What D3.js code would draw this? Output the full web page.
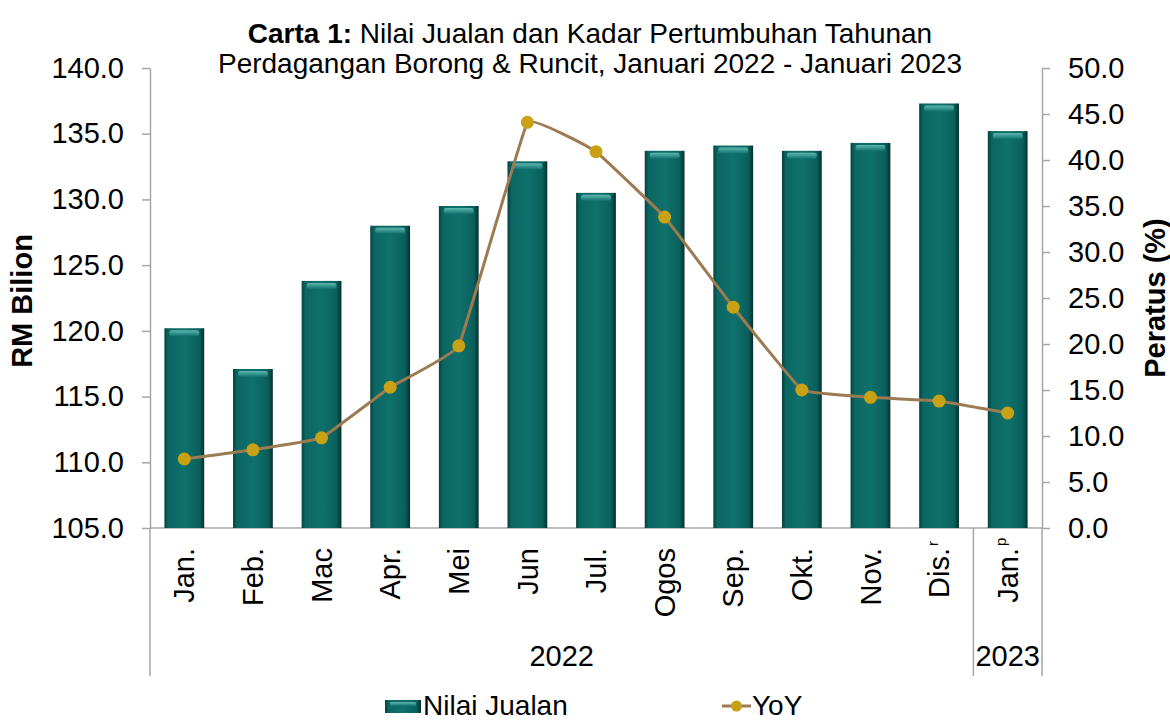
<!DOCTYPE html>
<html>
<head>
<meta charset="utf-8">
<script src="https://cdn.jsdelivr.net/npm/d3@7"></script>
<style>
  body { margin: 0; background: #fff; }
  text { font-family: "Liberation Sans", Arial, sans-serif; fill: #000; }
</style>
</head>
<body>
<svg id="chart" width="1170" height="721"></svg>
<script>
// data
const months = ["Jan.", "Feb.", "Mac", "Apr.", "Mei", "Jun", "Jul.", "Ogos", "Sep.", "Okt.", "Nov.", "Dis.", "Jan."]
const marks = ["", "", "", "", "", "", "", "", "", "", "", "r", "p"]
const nilaiJualan = [120.2, 117.1, 123.8, 128.0, 129.5, 132.9, 130.5, 133.7, 134.1, 133.7, 134.3, 137.3, 135.2]
const yoy = [7.5, 8.5, 9.8, 15.3, 19.8, 44.1, 40.9, 33.8, 24.0, 15.0, 14.2, 13.8, 12.5]
const yearLabels = ["2022", "2023"]
const yearSpans = [[0, 11], [12, 12]]
const leftTicks = [105, 110, 115, 120, 125, 130, 135, 140]
const rightTicks = [0, 5, 10, 15, 20, 25, 30, 35, 40, 45, 50]

const svg = d3.select("#chart")
const fs = 29
const axisColor = "#a6a6a6"

let plotLeft = 150, plotRight = 1042, plotTop = 68, plotBottom = 528

let x = d3.scaleBand().domain(d3.range(months.length)).range([plotLeft, plotRight])
let barW = x.bandwidth() * 0.58
let cx = i => x(i) + x.bandwidth() / 2

let yL = d3.scaleLinear().domain([105, 140]).range([plotBottom, plotTop])
let yR = d3.scaleLinear().domain([0, 50]).range([plotBottom, plotTop])

// gradients for the bevelled bars
let defs = svg.append("defs")
let g1 = defs.append("linearGradient").attr("id", "barGrad").attr("x1", 0).attr("x2", 1).attr("y1", 0).attr("y2", 0)
g1.append("stop").attr("offset", "0%").attr("stop-color", "#06413f")
g1.append("stop").attr("offset", "10%").attr("stop-color", "#0b6662")
g1.append("stop").attr("offset", "50%").attr("stop-color", "#0f716c")
g1.append("stop").attr("offset", "88%").attr("stop-color", "#0a5f5b")
g1.append("stop").attr("offset", "100%").attr("stop-color", "#03302e")
let g2 = defs.append("linearGradient").attr("id", "topGrad").attr("x1", 0).attr("x2", 0).attr("y1", 0).attr("y2", 1)
g2.append("stop").attr("offset", "0%").attr("stop-color", "#5fb7b1")
g2.append("stop").attr("offset", "100%").attr("stop-color", "#0f716c")

// title
let title = svg.append("text").attr("x", 590).attr("y", 43).attr("text-anchor", "middle").style("font-size", "28px")
title.append("tspan").style("font-weight", "bold").text("Carta 1:")
title.append("tspan").text(" Nilai Jualan dan Kadar Pertumbuhan Tahunan")
svg.append("text").attr("x", 590).attr("y", 73).attr("text-anchor", "middle").style("font-size", "28px")
  .text("Perdagangan Borong & Runcit, Januari 2022 - Januari 2023")

// left axis
let axL = svg.append("g").attr("transform", `translate(${plotLeft},0)`)
  .call(d3.axisLeft(yL).tickValues(leftTicks).tickFormat(d3.format(".1f")).tickSize(8).tickPadding(18).tickSizeOuter(0))
axL.selectAll("text").style("font-size", fs + "px").attr("fill", "#000")

// right axis
let axR = svg.append("g").attr("transform", `translate(${plotRight},0)`)
  .call(d3.axisRight(yR).tickValues(rightTicks).tickFormat(d3.format(".1f")).tickSize(8).tickPadding(18).tickSizeOuter(0))
axR.selectAll("text").style("font-size", fs + "px").attr("fill", "#000")

svg.selectAll(".domain, .tick line").attr("stroke", axisColor).attr("stroke-width", 1.5)

// category axis with two levels
let catBottom = 676
svg.append("line").attr("x1", plotLeft).attr("x2", plotRight).attr("y1", plotBottom).attr("y2", plotBottom)
  .attr("stroke", axisColor).attr("stroke-width", 1.5)
let seps = [0, yearSpans[1][0], months.length]
let sepX = d => d < months.length ? x(d) : plotRight
svg.selectAll(".sep").data(seps).enter().append("line")
  .attr("x1", sepX).attr("x2", sepX)
  .attr("y1", plotBottom).attr("y2", catBottom)
  .attr("stroke", axisColor).attr("stroke-width", 1.5)

// bars
let bars = svg.append("g").selectAll("g").data(nilaiJualan).enter().append("g")
bars.append("rect")
  .attr("x", (d, i) => cx(i) - barW / 2)
  .attr("y", d => yL(d))
  .attr("width", barW)
  .attr("height", d => yL(105) - yL(d))
  .attr("fill", "url(#barGrad)")
bars.append("rect")
  .attr("x", (d, i) => cx(i) - barW / 2 + 5)
  .attr("y", d => yL(d) + 2)
  .attr("width", barW - 10)
  .attr("height", 6)
  .attr("rx", 2)
  .attr("fill", "url(#topGrad)")

// YoY line, lightly smoothed
let line = d3.line().x((d, i) => cx(i)).y(d => yR(d)).curve(d3.curveCardinal.tension(0.8))
svg.append("path").datum(yoy).attr("d", line)
  .attr("fill", "none").attr("stroke", "#9c7b52").attr("stroke-width", 3)
svg.append("g").selectAll("circle").data(yoy).enter().append("circle")
  .attr("cx", (d, i) => cx(i)).attr("cy", d => yR(d)).attr("r", 6.5)
  .attr("fill", "#c9a114")

// month labels
let ml = svg.append("g").selectAll("g").data(months).enter().append("g")
  .attr("transform", (d, i) => `translate(${cx(i)},548) rotate(-90)`)
ml.append("text").attr("text-anchor", "end").attr("dy", "0.35em").style("font-size", fs + "px").text(d => d)
ml.append("text").attr("x", 2).attr("dy", "-0.1em").style("font-size", "15px").text((d, i) => marks[i])

// year labels
svg.selectAll(".year").data(yearLabels).enter().append("text")
  .attr("x", (d, i) => (x(yearSpans[i][0]) + x(yearSpans[i][1]) + x.bandwidth()) / 2)
  .attr("y", 666).attr("text-anchor", "middle").style("font-size", fs + "px").text(d => d)

// axis titles
svg.append("text").attr("transform", `translate(32,301) rotate(-90)`).attr("text-anchor", "middle")
  .style("font-size", fs + "px").style("font-weight", "bold").text("RM Bilion")
svg.append("text").attr("transform", `translate(1165,298) rotate(-90)`).attr("text-anchor", "middle")
  .style("font-size", fs + "px").style("font-weight", "bold").text("Peratus (%)")

// legend
let leg = svg.append("g")
leg.append("rect").attr("x", 385).attr("y", 700).attr("width", 36).attr("height", 13).attr("fill", "url(#barGrad)")
leg.append("rect").attr("x", 390).attr("y", 702).attr("width", 26).attr("height", 4).attr("rx", 1).attr("fill", "url(#topGrad)")
leg.append("text").attr("x", 423).attr("y", 715).style("font-size", "28px").text("Nilai Jualan")
leg.append("line").attr("x1", 722).attr("x2", 751).attr("y1", 706).attr("y2", 706).attr("stroke", "#9c7b52").attr("stroke-width", 3)
leg.append("circle").attr("cx", 736.5).attr("cy", 706).attr("r", 5.5).attr("fill", "#c9a114")
leg.append("text").attr("x", 752).attr("y", 715).style("font-size", "28px").text("YoY")
</script>
</body>
</html>
